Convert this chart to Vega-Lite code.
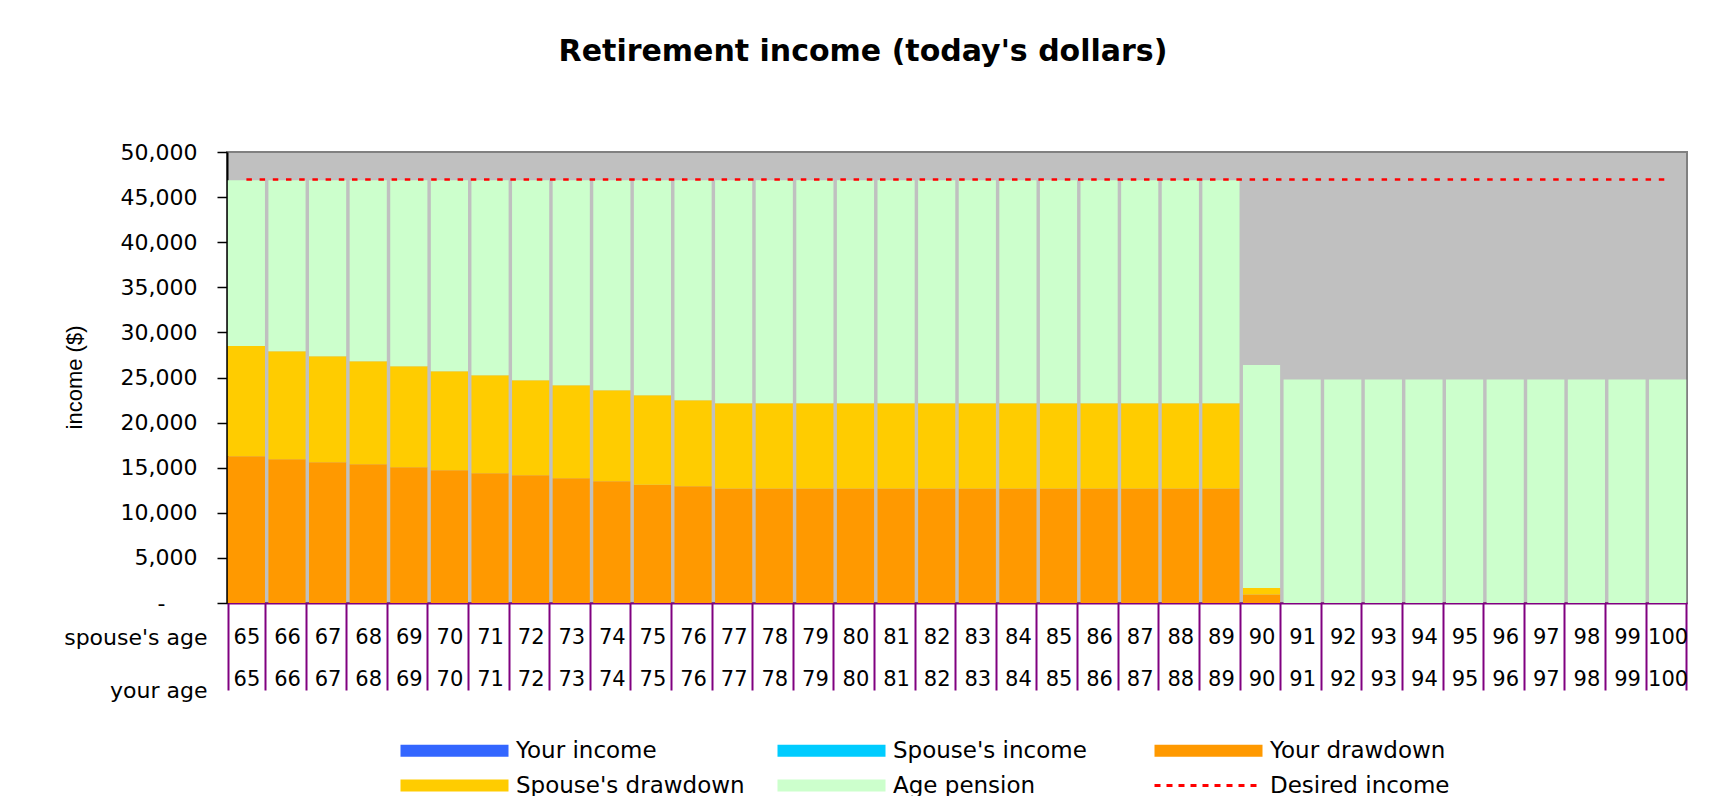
{
  "$schema": "https://vega.github.io/schema/vega-lite/v6.json",
  "width": 1460,
  "height": 451,
  "autosize": {"type": "none"},
  "padding": {"left": 227, "top": 152, "right": 32, "bottom": 193},
  "background": "white",
  "title": {
    "text": "Retirement income (today's dollars)",
    "font": "DejaVu Sans",
    "fontSize": 30,
    "fontWeight": "bold",
    "color": "black",
    "anchor": "middle",
    "frame": "group",
    "dx": -94,
    "offset": 74
  },
  "config": {
    "view": {"fill": "#C0C0C0", "stroke": "#808080", "strokeWidth": 2}
  },
  "datasets": {
    "bars": [
      {"age": 65, "series": "Your drawdown", "income": 16260}, {"age": 65, "series": "Spouse's drawdown", "income": 12230}, {"age": 65, "series": "Age pension", "income": 18370},
      {"age": 66, "series": "Your drawdown", "income": 15930}, {"age": 66, "series": "Spouse's drawdown", "income": 11980}, {"age": 66, "series": "Age pension", "income": 18950},
      {"age": 67, "series": "Your drawdown", "income": 15600}, {"age": 67, "series": "Spouse's drawdown", "income": 11750}, {"age": 67, "series": "Age pension", "income": 19510},
      {"age": 68, "series": "Your drawdown", "income": 15380}, {"age": 68, "series": "Spouse's drawdown", "income": 11420}, {"age": 68, "series": "Age pension", "income": 20060},
      {"age": 69, "series": "Your drawdown", "income": 15040}, {"age": 69, "series": "Spouse's drawdown", "income": 11200}, {"age": 69, "series": "Age pension", "income": 20620},
      {"age": 70, "series": "Your drawdown", "income": 14720}, {"age": 70, "series": "Spouse's drawdown", "income": 10970}, {"age": 70, "series": "Age pension", "income": 21170},
      {"age": 71, "series": "Your drawdown", "income": 14390}, {"age": 71, "series": "Spouse's drawdown", "income": 10850}, {"age": 71, "series": "Age pension", "income": 21620},
      {"age": 72, "series": "Your drawdown", "income": 14170}, {"age": 72, "series": "Spouse's drawdown", "income": 10520}, {"age": 72, "series": "Age pension", "income": 22170},
      {"age": 73, "series": "Your drawdown", "income": 13840}, {"age": 73, "series": "Spouse's drawdown", "income": 10300}, {"age": 73, "series": "Age pension", "income": 22720},
      {"age": 74, "series": "Your drawdown", "income": 13510}, {"age": 74, "series": "Spouse's drawdown", "income": 10070}, {"age": 74, "series": "Age pension", "income": 23280},
      {"age": 75, "series": "Your drawdown", "income": 13100}, {"age": 75, "series": "Spouse's drawdown", "income": 9930}, {"age": 75, "series": "Age pension", "income": 23830},
      {"age": 76, "series": "Your drawdown", "income": 12950}, {"age": 76, "series": "Spouse's drawdown", "income": 9520}, {"age": 76, "series": "Age pension", "income": 24390},
      {"age": 77, "series": "Your drawdown", "income": 12700}, {"age": 77, "series": "Spouse's drawdown", "income": 9440}, {"age": 77, "series": "Age pension", "income": 24720},
      {"age": 78, "series": "Your drawdown", "income": 12700}, {"age": 78, "series": "Spouse's drawdown", "income": 9440}, {"age": 78, "series": "Age pension", "income": 24720},
      {"age": 79, "series": "Your drawdown", "income": 12700}, {"age": 79, "series": "Spouse's drawdown", "income": 9440}, {"age": 79, "series": "Age pension", "income": 24720},
      {"age": 80, "series": "Your drawdown", "income": 12700}, {"age": 80, "series": "Spouse's drawdown", "income": 9440}, {"age": 80, "series": "Age pension", "income": 24720},
      {"age": 81, "series": "Your drawdown", "income": 12700}, {"age": 81, "series": "Spouse's drawdown", "income": 9440}, {"age": 81, "series": "Age pension", "income": 24720},
      {"age": 82, "series": "Your drawdown", "income": 12700}, {"age": 82, "series": "Spouse's drawdown", "income": 9440}, {"age": 82, "series": "Age pension", "income": 24720},
      {"age": 83, "series": "Your drawdown", "income": 12700}, {"age": 83, "series": "Spouse's drawdown", "income": 9440}, {"age": 83, "series": "Age pension", "income": 24720},
      {"age": 84, "series": "Your drawdown", "income": 12700}, {"age": 84, "series": "Spouse's drawdown", "income": 9440}, {"age": 84, "series": "Age pension", "income": 24720},
      {"age": 85, "series": "Your drawdown", "income": 12700}, {"age": 85, "series": "Spouse's drawdown", "income": 9440}, {"age": 85, "series": "Age pension", "income": 24720},
      {"age": 86, "series": "Your drawdown", "income": 12700}, {"age": 86, "series": "Spouse's drawdown", "income": 9440}, {"age": 86, "series": "Age pension", "income": 24720},
      {"age": 87, "series": "Your drawdown", "income": 12700}, {"age": 87, "series": "Spouse's drawdown", "income": 9440}, {"age": 87, "series": "Age pension", "income": 24720},
      {"age": 88, "series": "Your drawdown", "income": 12700}, {"age": 88, "series": "Spouse's drawdown", "income": 9440}, {"age": 88, "series": "Age pension", "income": 24720},
      {"age": 89, "series": "Your drawdown", "income": 12700}, {"age": 89, "series": "Spouse's drawdown", "income": 9440}, {"age": 89, "series": "Age pension", "income": 24720},
      {"age": 90, "series": "Your drawdown", "income": 950}, {"age": 90, "series": "Spouse's drawdown", "income": 710}, {"age": 90, "series": "Age pension", "income": 24730},
      {"age": 91, "series": "Age pension", "income": 24780},
      {"age": 92, "series": "Age pension", "income": 24780},
      {"age": 93, "series": "Age pension", "income": 24780},
      {"age": 94, "series": "Age pension", "income": 24780},
      {"age": 95, "series": "Age pension", "income": 24780},
      {"age": 96, "series": "Age pension", "income": 24780},
      {"age": 97, "series": "Age pension", "income": 24780},
      {"age": 98, "series": "Age pension", "income": 24780},
      {"age": 99, "series": "Age pension", "income": 24780},
      {"age": 100, "series": "Age pension", "income": 24780}
    ],
    "desired": [
      {"age": 65, "income": 46950},
      {"age": 100, "income": 46950}
    ]
  },
  "encoding": {
    "x": {
      "field": "age",
      "type": "ordinal",
      "scale": {"paddingInner": 0.085, "paddingOuter": 0.02},
      "axis": {
        "title": ["spouse's age", "your age"],
        "titleFont": "DejaVu Sans",
        "titleFontSize": 22,
        "titleFontWeight": "normal",
        "titleColor": "black",
        "titleAlign": "right",
        "titleBaseline": "alphabetic",
        "titleAngle": 0,
        "titleX": -20,
        "titleY": 41,
        "titleLineHeight": 53,
        "labelExpr": "[datum.label, datum.label]",
        "labelFont": "DejaVu Sans",
        "labelFontSize": 21,
        "labelColor": "black",
        "labelAngle": 0,
        "labelAlign": "center",
        "labelBaseline": "top",
        "labelLineHeight": 42,
        "labelPadding": -64,
        "labelOverlap": false,
        "labelBound": false,
        "tickBand": "extent",
        "tickSize": 87,
        "tickColor": "#800080",
        "tickWidth": 2,
        "domainColor": "#800080",
        "domainWidth": 2,
        "grid": false
      }
    },
    "y": {
      "field": "income",
      "type": "quantitative",
      "scale": {"domain": [0, 50000], "nice": false},
      "axis": {
        "title": "income ($)",
        "titleFont": "Liberation Sans",
        "titleFontSize": 22,
        "titleFontWeight": "normal",
        "titleColor": "black",
        "titleAlign": "center",
        "titleBaseline": "middle",
        "titleX": -153,
        "titleY": 225,
        "values": [0, 5000, 10000, 15000, 20000, 25000, 30000, 35000, 40000, 45000, 50000],
        "format": ",d",
        "labelExpr": "datum.value === 0 ? '-' : datum.label",
        "labelFont": "DejaVu Sans",
        "labelFontSize": 22,
        "labelColor": "black",
        "labelPadding": {"condition": {"test": "datum.value === 0", "value": 52}, "value": 20},
        "tickSize": 10,
        "tickColor": "black",
        "tickWidth": 1.5,
        "domainColor": "black",
        "domainWidth": 2,
        "grid": false
      }
    }
  },
  "layer": [
    {
      "data": {"name": "bars"},
      "mark": {"type": "bar"},
      "encoding": {
        "color": {
          "field": "series",
          "type": "nominal",
          "scale": {
            "domain": ["Your income", "Spouse's income", "Your drawdown", "Spouse's drawdown", "Age pension", "Desired income"],
            "range": ["#3366FF", "#00CCFF", "#FF9900", "#FFCC00", "#CCFFCC", "#FF0000"]
          },
          "legend": {
            "orient": "none",
            "legendX": 173,
            "legendY": 587,
            "direction": "horizontal",
            "columns": 3,
            "title": null,
            "gridAlign": "all",
            "columnPadding": 32,
            "rowPadding": 11,
            "symbolType": "M-1.833,-1H16.167V1H-1.833Z",
            "symbolSize": 144,
            "symbolStrokeWidth": 0,
            "labelFont": "DejaVu Sans",
            "labelFontSize": 23,
            "labelColor": "black",
            "labelLimit": 400,
            "labelOffset": 93,
            "encode": {
              "symbols": {
                "update": {
                  "shape": {"signal": "datum.value === 'Desired income' ? 'M-1.833,-0.25h1v0.5h-1zM0.167,-0.25h1v0.5h-1zM2.167,-0.25h1v0.5h-1zM4.167,-0.25h1v0.5h-1zM6.167,-0.25h1v0.5h-1zM8.167,-0.25h1v0.5h-1zM10.167,-0.25h1v0.5h-1zM12.167,-0.25h1v0.5h-1zM14.167,-0.25h1v0.5h-1z' : 'M-1.833,-1H16.167V1H-1.833Z'"}
                }
              }
            }
          }
        },
        "order": {"field": "series", "sort": "descending"}
      }
    },
    {
      "data": {"name": "desired"},
      "mark": {"type": "line", "color": "#FF0000", "strokeWidth": 2.5, "strokeDash": [5.5, 7.7]},
      "encoding": {}
    }
  ]
}
